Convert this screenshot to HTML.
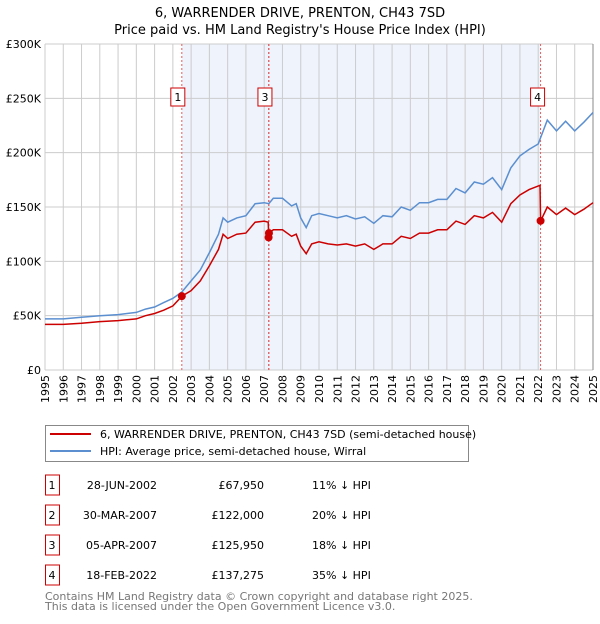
<!DOCTYPE html>
<html><head><meta charset="utf-8"><style>
body{margin:0;background:#fff;font-family:"DejaVu Sans","Liberation Sans",sans-serif;}
svg text{font-family:"DejaVu Sans","Liberation Sans",sans-serif;}
</style></head><body>
<svg id="c" width="600" height="620" viewBox="0 0 600 620" xmlns="http://www.w3.org/2000/svg">
<text x="300" y="17" text-anchor="middle" font-size="13" fill="#000">6, WARRENDER DRIVE, PRENTON, CH43 7SD</text>
<text x="300" y="34" text-anchor="middle" font-size="13" fill="#000">Price paid vs. HM Land Registry's House Price Index (HPI)</text>
<g id="plot"></g>
<g>
<rect x="45.5" y="425.5" width="423" height="36" fill="#fff" stroke="#888"/>
<line x1="50" y1="434" x2="91" y2="434" stroke="#cc0000" stroke-width="2"/>
<text x="100" y="438" font-size="11">6, WARRENDER DRIVE, PRENTON, CH43 7SD (semi-detached house)</text>
<line x1="50" y1="451" x2="91" y2="451" stroke="#5b8fd0" stroke-width="2"/>
<text x="100" y="455" font-size="11">HPI: Average price, semi-detached house, Wirral</text>
</g>
<g id="table" font-size="11"></g>
<text x="45" y="600" font-size="11" fill="#777">Contains HM Land Registry data © Crown copyright and database right 2025.</text>
<text x="45" y="610" font-size="11" fill="#777">This data is licensed under the Open Government Licence v3.0.</text>
</svg>
<script>
const hpiDates=[1995,1996,1997,1998,1999,2000,2000.5,2001,2001.5,2002,2002.5,2003,2003.5,2004,2004.5,2004.75,2005,2005.5,2006,2006.5,2007,2007.25,2007.5,2008,2008.5,2008.75,2009,2009.3,2009.6,2010,2010.5,2011,2011.5,2012,2012.5,2013,2013.5,2014,2014.5,2015,2015.5,2016,2016.5,2017,2017.5,2018,2018.5,2019,2019.5,2020,2020.5,2021,2021.5,2022,2022.5,2023,2023.5,2024,2024.5,2025];
const hpiValues=[47,47,48.5,50,51,53,56,58,62,66,72,82,92,108,125,140,136,140,142,153,154,153,158,158,151,153,140,131,142,144,142,140,142,139,141,135,142,141,150,147,154,154,157,157,167,163,173,171,177,166,186,197,203,208,230,220,229,220,228,237];
const priceDates=[1995,1996,1997,1998,1999,2000,2000.5,2001,2001.5,2002,2002.5,2003,2003.5,2004,2004.5,2004.75,2005,2005.5,2006,2006.5,2007,2007.22,2007.25,2007.27,2007.5,2008,2008.5,2008.75,2009,2009.3,2009.6,2010,2010.5,2011,2011.5,2012,2012.5,2013,2013.5,2014,2014.5,2015,2015.5,2016,2016.5,2017,2017.5,2018,2018.5,2019,2019.5,2020,2020.5,2021,2021.5,2022.1,2022.13,2022.5,2023,2023.5,2024,2024.5,2025];
const priceValues=[42,42,43,44.5,45.5,47,50,52,55,59,68,73,82,96,111,125,121,125,126,136,137,136,122,126,129,129,123,125,114,107,116,118,116,115,116,114,116,111,116,116,123,121,126,126,129,129,137,134,142,140,145,136,153,161,166,170,137,150,143,149,143,148,154];
const saleLabels=["1","2","3","4"];
const saleDates=[2002.49,2007.24,2007.26,2022.13];
const saleValues=[67.95,122,125.95,137.275];
const saleDateText=["28-JUN-2002","30-MAR-2007","05-APR-2007","18-FEB-2022"];
const salePriceText=["£67,950","£122,000","£125,950","£137,275"];
const saleDiffText=["11% ↓ HPI","20% ↓ HPI","18% ↓ HPI","35% ↓ HPI"];
const yTicks=[0,50,100,150,200,250,300];
const yTickLabels=["£0","£50K","£100K","£150K","£200K","£250K","£300K"];
const x0=45,x1=593,y0=370,y1=44;
const X=d=>x0+(d-1995)/(2025-1995)*(x1-x0);
const Y=v=>y0-v/300*(y0-y1);
const NS="http://www.w3.org/2000/svg";
const plot=document.getElementById('plot');
function mk(t,a,p){const e=document.createElementNS(NS,t);for(const k in a)e.setAttribute(k,a[k]);(p||plot).appendChild(e);return e;}
let r=mk('rect',{x:X(saleDates[0]),y:y1,width:X(saleDates[3])-X(saleDates[0]),height:y0-y1,fill:'#eef3fc'});


for(let yr=1995;yr<=2025;yr++){
 let l=mk('line',{x1:X(yr),x2:X(yr),y1:y1,y2:y0,stroke:'#cccccc'});
 
 
 let t=mk('text',{x:0,y:0,'font-size':11,'text-anchor':'end',transform:`translate(${X(yr)+4},${y0+5}) rotate(-90)`});
 t.textContent=yr;
 
 
}
yTicks.forEach((v,i)=>{
 let l=mk('line',{x1:x0,x2:x1,y1:Y(v),y2:Y(v),stroke:'#cccccc'});
 
 
 let t=mk('text',{x:x0-4,y:Y(v)+4,'font-size':11,'text-anchor':'end'});
 t.textContent=yTickLabels[i];
 
 
});
let rb=mk('line',{x1:x1,x2:x1,y1:y1,y2:y0,stroke:'#888'});


saleDates.forEach((d,i)=>{
 let l=mk('line',{x1:X(d),x2:X(d),y1:y1,y2:y0,stroke:'#e06060','stroke-dasharray':'2,2'});
 
 
});
function pts(ds,vs){return ds.map((d,i)=>X(d).toFixed(1)+','+Y(vs[i]).toFixed(1)).join(' ');}
let hp=mk('polyline',{points:pts(hpiDates,hpiValues),fill:'none',stroke:'#5b8fd0','stroke-width':1.5});


let pp=mk('polyline',{points:pts(priceDates,priceValues),fill:'none',stroke:'#cc0000','stroke-width':1.5});


saleDates.forEach((d,i)=>{
 let c=mk('circle',{cx:X(d),cy:Y(saleValues[i]),r:4,fill:'#cc0000'});
 
 
});
[0,1,2,3].forEach(i=>{
 if(i===1)return;
 let g=mk('g',{});
 
 
 const bx=X(saleDates[i])-(i===3?3:4);
 mk('rect',{x:bx-7,y:88,width:14,height:18,fill:'#fff',stroke:'#cc0000'},g);
 let t=mk('text',{x:bx,y:101,'font-size':11,'text-anchor':'middle'},g);t.textContent=saleLabels[i];
});
const tb=document.getElementById('table');
const rowY=[485,515,545,575];
saleLabels.forEach((s,i)=>{
 let g=mk('g',{},tb);
 
 
 mk('rect',{x:45.5,y:rowY[i]-10,width:14,height:20,fill:'#fff',stroke:'#cc0000'},g);
 let a=mk('text',{x:52,y:rowY[i]+4,'text-anchor':'middle'},g);a.textContent=s;
 let b=mk('text',{x:157,y:rowY[i]+4,'text-anchor':'end'},g);b.textContent=saleDateText[i];
 let c=mk('text',{x:264,y:rowY[i]+4,'text-anchor':'end'},g);c.textContent=salePriceText[i];
 let d=mk('text',{x:312,y:rowY[i]+4},g);d.textContent=saleDiffText[i];
});
</script>
</body></html>
